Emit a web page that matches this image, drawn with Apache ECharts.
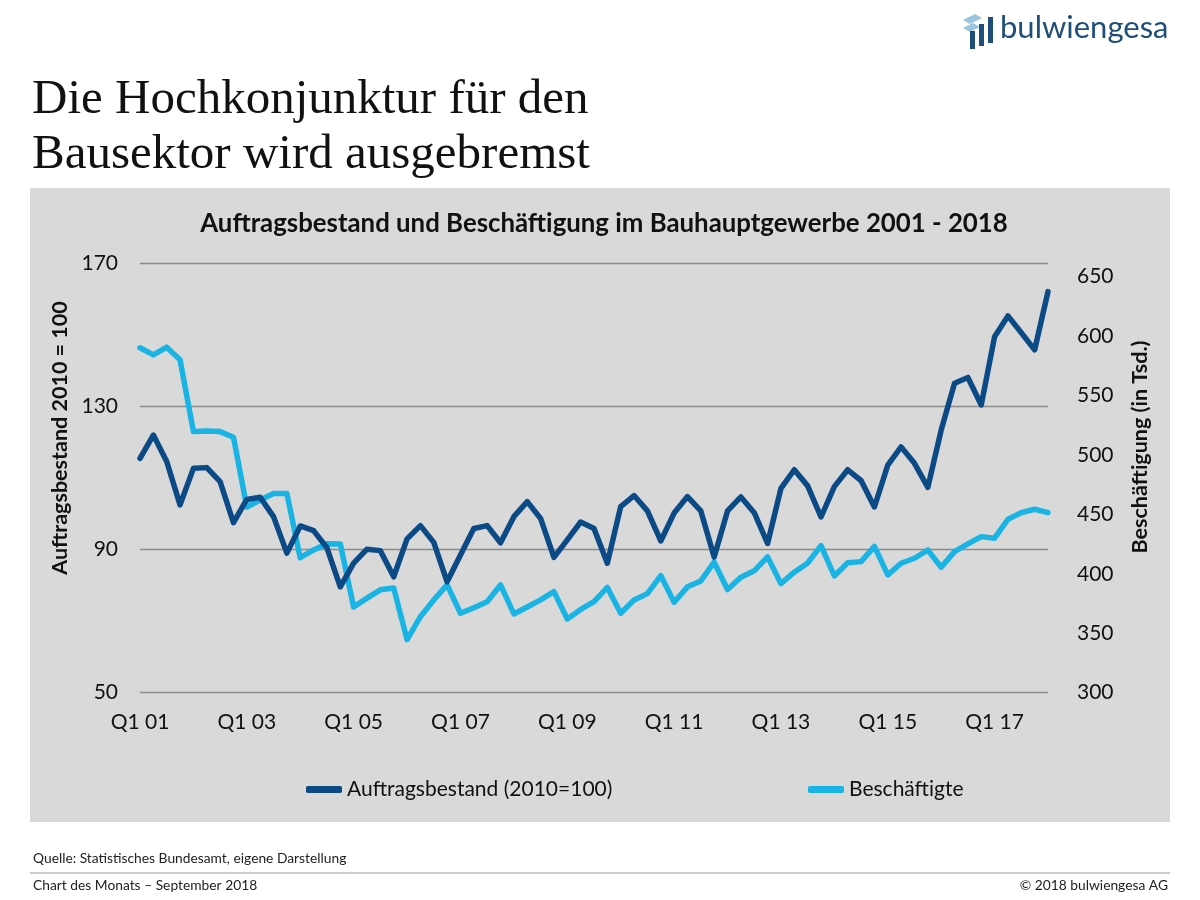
<!DOCTYPE html>
<html>
<head>
<meta charset="utf-8">
<script src="https://cdn.jsdelivr.net/npm/echarts@6/dist/echarts.min.js"></script>
<style>
html,body{margin:0;padding:0;background:#fff;}
#main{width:1200px;height:900px;}
</style>
</head>
<body>
<div id="main"></div>
<script>
const categories = ['Q1 01','Q2 01','Q3 01','Q4 01','Q1 02','Q2 02','Q3 02','Q4 02','Q1 03','Q2 03','Q3 03','Q4 03',
'Q1 04','Q2 04','Q3 04','Q4 04','Q1 05','Q2 05','Q3 05','Q4 05','Q1 06','Q2 06','Q3 06','Q4 06',
'Q1 07','Q2 07','Q3 07','Q4 07','Q1 08','Q2 08','Q3 08','Q4 08','Q1 09','Q2 09','Q3 09','Q4 09',
'Q1 10','Q2 10','Q3 10','Q4 10','Q1 11','Q2 11','Q3 11','Q4 11','Q1 12','Q2 12','Q3 12','Q4 12',
'Q1 13','Q2 13','Q3 13','Q4 13','Q1 14','Q2 14','Q3 14','Q4 14','Q1 15','Q2 15','Q3 15','Q4 15',
'Q1 16','Q2 16','Q3 16','Q4 16','Q1 17','Q2 17','Q3 17','Q4 17','Q1 18'];

const auftragsbestand = [115.5,122,114.6,102.5,112.7,112.9,109,97.5,104,104.6,99.2,89,
96.6,95.3,90.5,79.6,86.2,90.1,89.7,82.4,93,96.7,92,81,
88.5,95.9,96.7,91.9,99.2,103.4,98.7,87.8,92.7,97.7,95.9,86.2,
102,105.1,100.8,92.4,100.2,104.8,100.8,87.9,100.8,104.7,100.3,91.7,
107.1,112.3,107.8,99.1,107.6,112.3,109.3,101.9,113.6,118.7,114.1,107.4,
123.4,136.5,138.1,130.4,149.5,155.3,150.6,145.8,162.1];

const beschaeftigte = [590,584,590.5,580,519.5,520,519.5,514.8,456,462,467.5,467.5,
413.5,420,425.3,425.1,372,379.5,386.5,388,344.6,363.9,378,390.6,
366.8,371.4,376.5,390.6,366.2,372,378,385,362,370,376.5,388.5,
366.8,378,383.3,398.5,376,389,394,409.7,386.7,397,402.5,414.2,
391.7,401.3,409,423.6,398.1,409.3,410.2,423,399,408.8,413,420,
405.5,418.6,425.1,431.2,429.9,445.8,451.4,454.2,451.4];

const leftTicks = {min: 50, max: 170, interval: 40};
const rightTicks = {min: 300, max: 661, interval: 50};

const seriesNames = ['Auftragsbestand (2010=100)', 'Beschäftigte'];
const titleText = 'Auftragsbestand und Beschäftigung im Bauhauptgewerbe 2001 - 2018';
const headline = ['Die Hochkonjunktur für den', 'Bausektor wird ausgebremst'];

const DARK = '#0b4a85';
const LIGHT = '#19b4e4';
const FONT = 'Lato, "Open Sans", sans-serif';

const chart = echarts.init(document.getElementById('main'));
chart.setOption({
  backgroundColor: '#ffffff',
  animation: false,
  graphic: [
    {type:'rect', z:-10, shape:{x:30,y:188,width:1140,height:634}, style:{fill:'#d9d9d9'}},
    {type:'text', left:32, top:76, style:{text:headline[0], font:'49px "Liberation Serif", serif', fill:'#111'}},
    {type:'text', left:32, top:131, style:{text:headline[1], font:'49px "Liberation Serif", serif', fill:'#111'}},
    // logo icon
    {type:'polygon', shape:{points:[[963,20],[975,14],[982,18],[970,24]]}, style:{fill:'#9cc3e0'}},
    {type:'polygon', shape:{points:[[963,28],[973,23],[980,27],[970,32]]}, style:{fill:'#9cc3e0'}},
    {type:'rect', shape:{x:970,y:31,width:5,height:18}, style:{fill:'#1f4e79'}},
    {type:'rect', shape:{x:979,y:24,width:5,height:22}, style:{fill:'#1f4e79'}},
    {type:'rect', shape:{x:988,y:17,width:5,height:26}, style:{fill:'#1f4e79'}},
    {type:'text', left:1000, top:12, style:{text:'bulwiengesa', font:'31px Lato, sans-serif', fill:'#1f4e79'}},
    {type:'text', x:604, y:224, style:{text:titleText, font:'bold 25.8px ' + FONT, fill:'#111', align:'center', verticalAlign:'middle'}},
    {type:'text', x:60, y:438, rotation:Math.PI/2, style:{text:'Auftragsbestand 2010 = 100', font:'bold 21.5px ' + FONT, fill:'#111', align:'center', verticalAlign:'middle'}},
    {type:'text', x:1140, y:447, rotation:Math.PI/2, style:{text:'Beschäftigung (in Tsd.)', font:'bold 21.5px ' + FONT, fill:'#111', align:'center', verticalAlign:'middle'}},
    {type:'text', left:33, top:852, style:{text:'Quelle: Statistisches Bundesamt, eigene Darstellung', font:'13.8px ' + FONT, fill:'#222'}},
    {type:'line', shape:{x1:30,y1:873,x2:1170,y2:873}, style:{stroke:'#999', lineWidth:1}},
    {type:'text', left:33, top:879, style:{text:'Chart des Monats – September 2018', font:'13.8px ' + FONT, fill:'#222'}},
    {type:'text', right:32, top:879, style:{text:'© 2018 bulwiengesa AG', font:'13.8px ' + FONT, fill:'#222'}}
  ],
  grid: {left:140, right:152, top:263.3, bottom:207.3, containLabel:false},
  legend: [
    {data:[seriesNames[0]], left:301, top:774, icon:'roundRect', itemWidth:36, itemHeight:7, itemGap:10,
     textStyle:{fontFamily:FONT, fontSize:21, color:'#111'}},
    {data:[seriesNames[1]], left:803, top:774, icon:'roundRect', itemWidth:36, itemHeight:7, itemGap:10,
     textStyle:{fontFamily:FONT, fontSize:21, color:'#111'}}
  ],
  xAxis: {
    type:'category', data:categories, boundaryGap:false,
    axisLine:{show:false}, axisTick:{show:false},
    axisLabel:{interval:7, margin:19, fontFamily:FONT, fontSize:21, color:'#111'},
    splitLine:{show:false}
  },
  yAxis: [
    {type:'value', min:leftTicks.min, max:leftTicks.max, interval:leftTicks.interval,
     axisLine:{show:false}, axisTick:{show:false},
     axisLabel:{margin:22, fontFamily:FONT, fontSize:21, color:'#111'},
     splitLine:{show:true, lineStyle:{color:'#8c8c8c', width:1.3}}},
    {type:'value', min:rightTicks.min, max:rightTicks.max, interval:rightTicks.interval, position:'right',
     axisLine:{show:false}, axisTick:{show:false},
     axisLabel:{margin:29, fontFamily:FONT, fontSize:21, color:'#111',
       formatter: v => (v % 50 === 0 ? String(v) : '')},
     splitLine:{show:false}}
  ],
  series: [
    {name:seriesNames[0], type:'line', yAxisIndex:0, data:auftragsbestand, showSymbol:false,
     lineStyle:{color:DARK, width:5.5, join:'round', cap:'round'}, itemStyle:{color:DARK}, z:3},
    {name:seriesNames[1], type:'line', yAxisIndex:1, data:beschaeftigte, showSymbol:false,
     lineStyle:{color:LIGHT, width:5.5, join:'round', cap:'round'}, itemStyle:{color:LIGHT}, z:2}
  ]
});
</script>
</body>
</html>
